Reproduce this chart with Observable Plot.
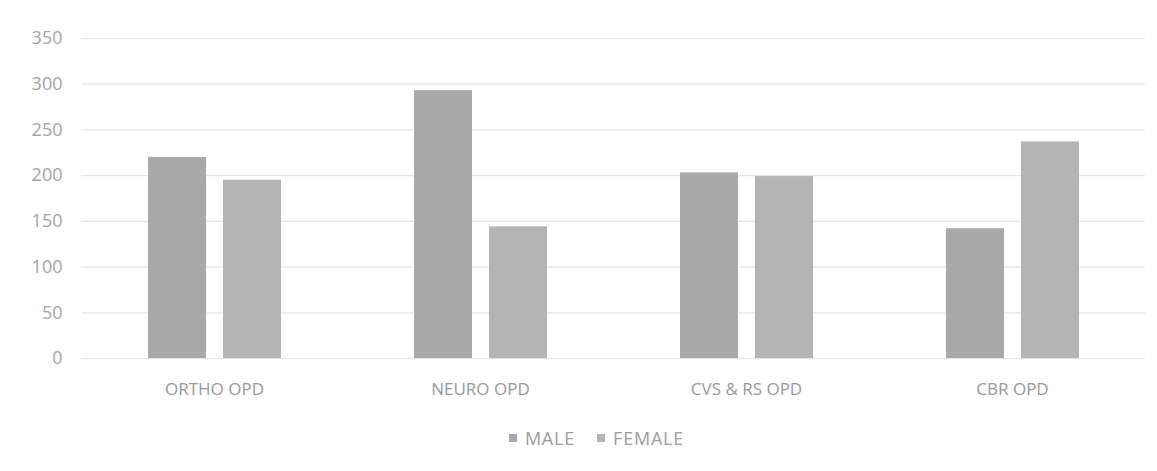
<!DOCTYPE html>
<html>
<head>
<meta charset="utf-8">
<script src="https://cdn.jsdelivr.net/npm/d3@7"></script>
<script src="https://cdn.jsdelivr.net/npm/@observablehq/plot@0.6"></script>
<style>
  body { margin: 0; background: #fff; font-family: "Open Sans", sans-serif; }
  #wrap { width: 1157px; height: 471px; position: relative; overflow: hidden; }
  #legend { position: absolute; top: 424px; left: 0; width: 1157px; height: 28px;
            display: flex; justify-content: center; align-items: center; gap: 22px;
            padding-left: 36px; box-sizing: border-box;
            font-size: 18px; color: #9c9c9c; letter-spacing: 0.8px; }
  .item { display: flex; align-items: center; gap: 8px; }
  .sw { width: 8px; height: 8px; display: inline-block; }
</style>
</head>
<body>
<div id="wrap"><div id="chart"></div><div id="legend"></div></div>
<script>
const categories = ["ORTHO OPD", "NEURO OPD", "CVS & RS OPD", "CBR OPD"];
const series = ["MALE", "FEMALE"];
const maleValues = [220, 293, 203, 142];
const femaleValues = [195, 144, 199, 237];
const yTicks = [0, 50, 100, 150, 200, 250, 300, 350];
const seriesColors = ["#a9a9a9", "#b4b4b4"];

const data = [];
categories.forEach((c, i) => {
  data.push({cat: c, sex: "MALE", value: maleValues[i]});
  data.push({cat: c, sex: "FEMALE", value: femaleValues[i]});
});

const chart = Plot.plot({
  width: 1157,
  height: 410,
  marginLeft: 79,
  marginRight: 11,
  marginTop: 38,
  marginBottom: 52,
  style: {fontFamily: "'Open Sans', sans-serif", background: "#fff"},
  fx: {domain: categories, padding: 0},
  x: {domain: series, paddingInner: 0.23, paddingOuter: 0.87, axis: null},
  y: {domain: [0, 350]},
  color: {domain: series, range: seriesColors},
  marks: [
    Plot.ruleY(yTicks, {stroke: "#e7e2e7", strokeWidth: 1.2}),
    Plot.barY(data, {fx: "cat", x: "sex", y: "value", fill: "sex"}),
    Plot.axisY(yTicks, {tickSize: 0, tickPadding: 19, fontSize: 18, fill: "#a4a4a4", label: null}),
    Plot.axisFx({anchor: "bottom", tickSize: 0, tickPadding: 24, fontSize: 17, fill: "#999", label: null, letterSpacing: "0.5px"})
  ]
});
document.getElementById("chart").appendChild(chart);

const legend = document.getElementById("legend");
series.forEach((s, i) => {
  const item = document.createElement("span");
  item.className = "item";
  const sw = document.createElement("span");
  sw.className = "sw";
  sw.style.background = seriesColors[i];
  const t = document.createElement("span");
  t.textContent = s;
  item.appendChild(sw);
  item.appendChild(t);
  legend.appendChild(item);
});
</script>
</body>
</html>
